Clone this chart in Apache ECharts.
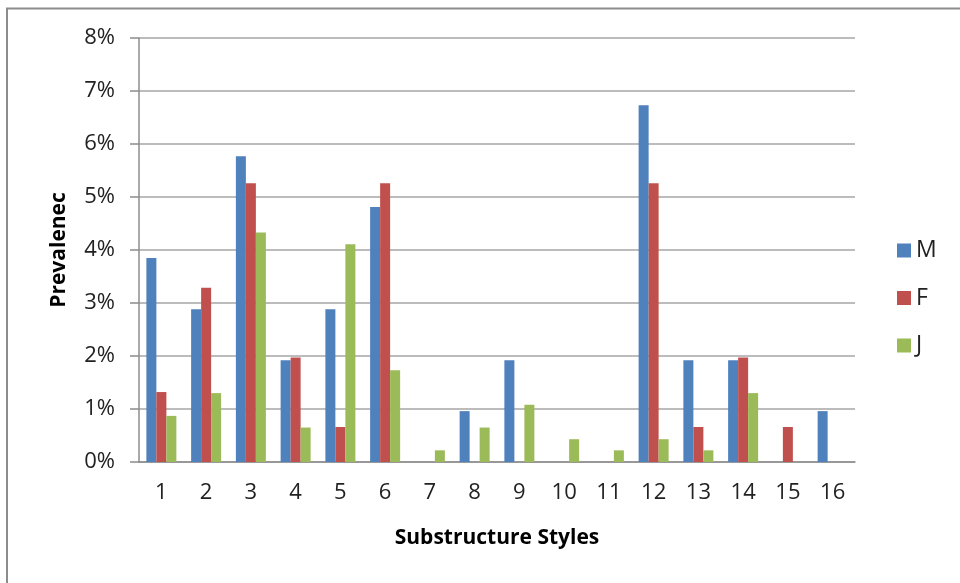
<!DOCTYPE html>
<html><head><meta charset="utf-8">
<script src="https://cdn.jsdelivr.net/npm/echarts@6/dist/echarts.min.js"></script>
<style>html,body{margin:0;padding:0;background:#fff}#c{width:960px;height:583px}</style>
</head><body><div id="c"></div>
<script>
const categories = ['1','2','3','4','5','6','7','8','9','10','11','12','13','14','15','16'];
const seriesNames = ['M','F','J'];
const valuesM = [3.85,2.88,5.77,1.92,2.88,4.81,0,0.96,1.92,0,0,6.73,1.92,1.92,0,0.96];
const valuesF = [1.32,3.29,5.26,1.97,0.66,5.26,0,0,0,0,0,5.26,0.66,1.97,0.66,0];
const valuesJ = [0.87,1.30,4.33,0.65,4.11,1.73,0.22,0.65,1.08,0.43,0.22,0.43,0.22,1.30,0,0];
const colors = ['#4F81BD','#C0504D','#9BBB59'];
const FONT = 'Open Sans';

const chart = echarts.init(document.getElementById('c'));
const dataSets = [valuesM, valuesF, valuesJ];
chart.setOption({
  animation: false,
  textStyle: {fontFamily: FONT},
  graphic: [{type:'rect', shape:{x:7,y:8.5,width:1000,height:1000}, style:{fill:'none', stroke:'#8c8c8c', lineWidth:2}, silent:true}],
  grid: {left:139, right:105, top:38, bottom:121, containLabel:false},
  legend: {
    orient:'vertical', left:897, top:239, padding:0, itemGap:24.5, itemWidth:14, itemHeight:14,
    icon:'rect', textStyle:{fontFamily:FONT, fontSize:23, color:'#222'},
    data: seriesNames
  },
  xAxis: {
    type:'category', data:categories,
    name:'Substructure Styles', nameLocation:'middle', nameGap:66,
    nameTextStyle:{fontFamily:FONT, fontSize:21, fontWeight:'bold', color:'#000'},
    axisLine:{lineStyle:{color:'#8c8c8c', width:1.5}},
    axisTick:{show:false},
    axisLabel:{fontFamily:FONT, fontSize:22, color:'#222', margin:20}
  },
  yAxis: {
    type:'value', min:0, max:8, interval:1,
    name:'Prevalenec', nameLocation:'middle', nameGap:69, nameRotate:90,
    nameTextStyle:{fontFamily:FONT, fontSize:21, fontWeight:'bold', color:'#000'},
    axisLine:{show:true, lineStyle:{color:'#8c8c8c', width:1.5}},
    axisTick:{show:true, length:9, lineStyle:{color:'#8c8c8c', width:1.5}},
    axisLabel:{fontFamily:FONT, fontSize:22, color:'#222', margin:24, formatter: v => v + '%'},
    splitLine:{lineStyle:{color:'#a6a6a6', width:1.5}}
  },
  series: seriesNames.map((n,i) => ({
    name:n, type:'bar', data:dataSets[i], barWidth:10, barGap:'0%',
    itemStyle:{color:colors[i]}
  }))
});
</script></body></html>
